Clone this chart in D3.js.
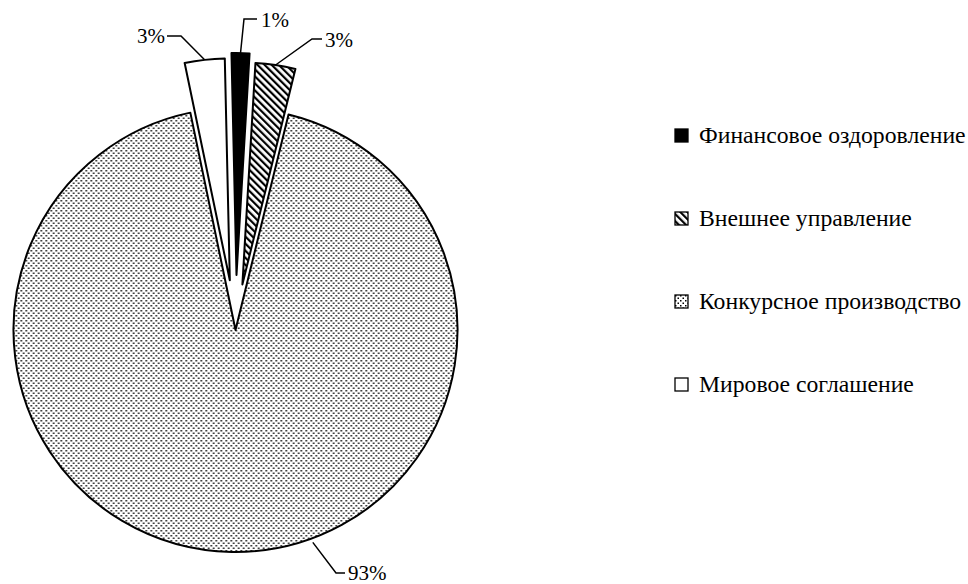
<!DOCTYPE html>
<html>
<head>
<meta charset="utf-8">
<script src="https://cdn.jsdelivr.net/npm/d3@7"></script>
<style>
  html, body { margin: 0; padding: 0; background: #fff; }
  svg { display: block; }
</style>
</head>
<body>
<svg id="chart" width="968" height="584"></svg>
<script>
// ---- data ----
const categories = ["Финансовое оздоровление", "Внешнее управление", "Конкурсное производство", "Мировое соглашение"];
const values = [1.3, 2.9, 92.9, 2.9];
const percentLabels = ["1%", "3%", "93%", "3%"];

// ---- layout / style ----
const FONT = "'Liberation Serif', 'Times New Roman', Times, 'DejaVu Serif', serif";
const cx = 235.5, cy = 330, R = 222;
const explode = [55, 46, 0, 50];
const startDeg = -1.3;
const fills = ["#000", "url(#hatch)", "url(#dots)", "#fff"];
const labelLayout = [
  { anchorDeg: null, elbow: [[244, 19], [257, 19]], tx: 261, ty: 27, anchor: "start" },
  { anchorDeg: null, elbow: [[312, 39], [322, 39]], tx: 325, ty: 47, anchor: "start" },
  { anchorDeg: 160, elbow: [[336, 573], [345, 573]], tx: 348, ty: 580, anchor: "start" },
  { anchorDeg: null, elbow: [[181, 36], [167, 36]], tx: 165, ty: 43, anchor: "end" }
];

const svg = d3.select("#chart");
const defs = svg.append("defs");

const hatch = defs.append("pattern").attr("id", "hatch")
  .attr("patternUnits", "userSpaceOnUse").attr("width", 5).attr("height", 5)
  .attr("patternTransform", "rotate(-45)");
hatch.append("rect").attr("width", 5).attr("height", 5).attr("fill", "#fff");
hatch.append("rect").attr("x", 0).attr("y", 0).attr("width", 2.2).attr("height", 5).attr("fill", "#000");

const dots = defs.append("pattern").attr("id", "dots")
  .attr("patternUnits", "userSpaceOnUse").attr("width", 5).attr("height", 5);
dots.append("rect").attr("width", 5).attr("height", 5).attr("fill", "#fff");
dots.append("rect").attr("x", 0).attr("y", 0).attr("width", 1.5).attr("height", 1.5).attr("fill", "#000");
dots.append("rect").attr("x", 2.5).attr("y", 2.5).attr("width", 1.5).attr("height", 1.5).attr("fill", "#000");

const rad = Math.PI / 180;
const pie = d3.pie().sort(null).value(d => d)
  .startAngle(startDeg * rad).endAngle(startDeg * rad + 2 * Math.PI);
const arcs = pie(values);
const arc = d3.arc().innerRadius(0).outerRadius(R);

const g = svg.append("g").attr("transform", `translate(${cx},${cy})`);

const offs = arcs.map((a, i) => {
  const m = (a.startAngle + a.endAngle) / 2;
  return [Math.sin(m) * explode[i], -Math.cos(m) * explode[i]];
});

g.selectAll("path.slice").data(arcs).join("path")
  .attr("class", "slice")
  .attr("d", arc)
  .attr("transform", (d, i) => `translate(${offs[i][0]},${offs[i][1]})`)
  .attr("fill", (d, i) => fills[i])
  .attr("stroke", "#000")
  .attr("stroke-width", 2)
  .attr("stroke-linejoin", "round");

// labels with leader lines
const lab = svg.append("g");
arcs.forEach((a, i) => {
  const L = labelLayout[i];
  const m = L.anchorDeg == null ? (a.startAngle + a.endAngle) / 2 : L.anchorDeg * rad;
  const rr = R + (L.anchorDeg == null ? 0 : 4);
  const ax = cx + offs[i][0] + Math.sin(m) * rr;
  const ay = cy + offs[i][1] - Math.cos(m) * rr;
  const pts = [[ax, ay]].concat(L.elbow);
  lab.append("path")
    .attr("d", d3.line()(pts))
    .attr("fill", "none").attr("stroke", "#000").attr("stroke-width", 1.5);
  lab.append("text")
    .attr("x", L.tx).attr("y", L.ty)
    .attr("text-anchor", L.anchor)
    .attr("font-family", FONT)
    .attr("font-size", 21)
    .attr("fill", "#000")
    .text(percentLabels[i]);
});

// legend
const legY = d3.scalePoint().domain(categories).range([136, 385]);
const leg = svg.append("g");
categories.forEach((c, i) => {
  const y = legY(c);
  leg.append("rect")
    .attr("x", 675).attr("y", y - 7).attr("width", 13).attr("height", 13)
    .attr("fill", fills[i]).attr("stroke", "#000").attr("stroke-width", 1.3);
  leg.append("text")
    .attr("x", 699).attr("y", y + 7)
    .attr("font-family", FONT)
    .attr("font-size", 23.7)
    .attr("fill", "#000")
    .text(c);
});
</script>
</body>
</html>
